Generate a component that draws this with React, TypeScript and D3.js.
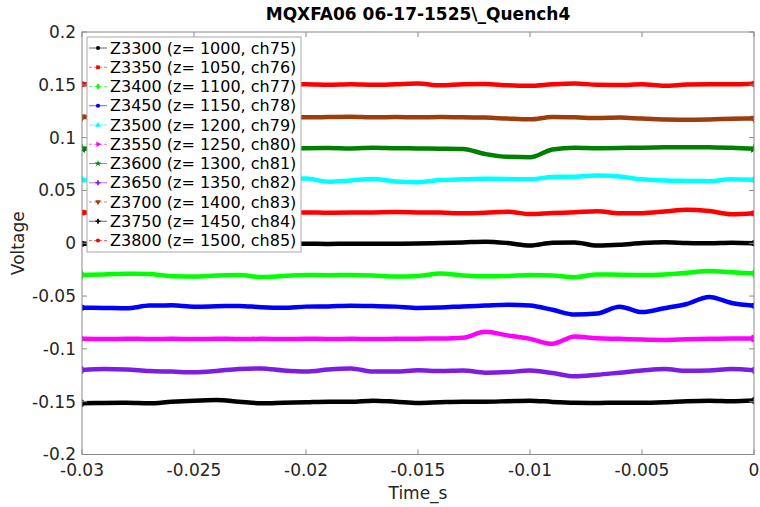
import { useEffect } from "react";
import * as d3 from "d3";

// time samples (s)
const TIME = [
  -0.03, -0.029, -0.028, -0.027, -0.026, -0.025, -0.024, -0.023, -0.022, -0.021,
  -0.02, -0.019, -0.018, -0.017, -0.016, -0.015, -0.014, -0.013, -0.012, -0.011,
  -0.01, -0.009, -0.008, -0.007, -0.006, -0.005, -0.004, -0.003, -0.002, -0.001, 0,
];

// voltages (offset traces)
const Z3300 = [
  -0.0005, -0.0004, -0.0006, -0.0005, -0.0004, -0.0006, -0.0005, -0.0004, -0.0006, -0.0005,
  -0.0004, -0.0006, -0.0005, -0.0004, -0.0005, -0.0003, 0.0003, 0.0008, 0.0015, 0.0002,
  -0.0022, 0.0005, 0.0008, -0.0022, -0.0015, 0.0002, 0.0009, 0.0003, 0.0, 0.0005, 0.0,
];
const Z3350 = [
  0.029, 0.0292, 0.0288, 0.029, 0.0292, 0.0288, 0.029, 0.0292, 0.0288, 0.029,
  0.0292, 0.0288, 0.029, 0.0292, 0.0295, 0.0292, 0.029, 0.0283, 0.0288, 0.0299,
  0.0276, 0.0286, 0.0293, 0.0303, 0.0283, 0.0285, 0.03, 0.0318, 0.0305, 0.0274, 0.0283,
];
const Z3400 = [
  -0.03, -0.0295, -0.0288, -0.029, -0.0312, -0.0314, -0.0305, -0.03, -0.032, -0.031,
  -0.03, -0.0302, -0.03, -0.0305, -0.0315, -0.031, -0.0287, -0.0305, -0.0313, -0.031,
  -0.03, -0.0305, -0.0322, -0.0295, -0.0298, -0.03, -0.0295, -0.028, -0.0263, -0.0275, -0.0285,
];
const Z3450 = [
  -0.061, -0.0612, -0.0616, -0.059, -0.0588, -0.06, -0.0597, -0.0593, -0.0605, -0.061,
  -0.06, -0.0598, -0.0592, -0.0595, -0.06, -0.0612, -0.0608, -0.0598, -0.059, -0.0582,
  -0.059, -0.063, -0.0675, -0.0665, -0.06, -0.0652, -0.0615, -0.0575, -0.0508, -0.0565, -0.0591,
];
const Z3500 = [
  0.06, 0.0598, 0.0602, 0.06, 0.0598, 0.06, 0.0602, 0.06, 0.0598, 0.0605,
  0.0612, 0.0583, 0.0595, 0.0608, 0.0585, 0.0578, 0.0598, 0.0605, 0.061, 0.0608,
  0.0605, 0.0628, 0.063, 0.0642, 0.0632, 0.0605, 0.0593, 0.059, 0.0588, 0.0605, 0.06,
];
const Z3550 = [
  -0.0905, -0.0907, -0.0904, -0.0906, -0.0905, -0.0907, -0.0904, -0.0906, -0.0905, -0.0907,
  -0.0904, -0.0906, -0.0905, -0.0907, -0.0904, -0.0903, -0.0902, -0.0895, -0.0838, -0.0872,
  -0.0905, -0.0952, -0.0882, -0.09, -0.0905, -0.0912, -0.0915, -0.091, -0.0905, -0.0902, -0.0902,
];
const Z3600 = [
  0.0895, 0.09, 0.0898, 0.0902, 0.0898, 0.09, 0.0895, 0.09, 0.0902, 0.0898,
  0.09, 0.0902, 0.0898, 0.0905, 0.09, 0.0898, 0.0895, 0.0892, 0.0845, 0.0818,
  0.0815, 0.0888, 0.0905, 0.09, 0.0902, 0.0905, 0.0908, 0.091, 0.0908, 0.0905, 0.0895,
];
const Z3650 = [
  -0.12, -0.119, -0.1195, -0.121, -0.1215, -0.1222, -0.121, -0.119, -0.1185, -0.1205,
  -0.1215, -0.1195, -0.1185, -0.1215, -0.1215, -0.1202, -0.121, -0.1205, -0.1225, -0.122,
  -0.1205, -0.1228, -0.126, -0.1245, -0.1225, -0.1205, -0.119, -0.1208, -0.1205, -0.119, -0.1203,
];
const Z3700 = [
  0.1195, 0.1192, 0.119, 0.1195, 0.1192, 0.119, 0.1195, 0.1192, 0.119, 0.1195,
  0.1192, 0.1195, 0.1198, 0.1192, 0.1195, 0.1192, 0.1195, 0.1192, 0.119, 0.118,
  0.1173, 0.1195, 0.1192, 0.1185, 0.119, 0.118, 0.1172, 0.117, 0.1172, 0.1178, 0.1182,
];
const Z3750 = [
  -0.1515, -0.1512, -0.151, -0.1515, -0.15, -0.149, -0.1485, -0.15, -0.1515, -0.151,
  -0.1505, -0.15, -0.15, -0.149, -0.15, -0.1512, -0.1505, -0.15, -0.15, -0.1495,
  -0.149, -0.1502, -0.151, -0.1512, -0.151, -0.151, -0.1505, -0.1495, -0.149, -0.1495, -0.1488,
];
const Z3800 = [
  0.1505, 0.1505, 0.15, 0.1505, 0.15, 0.1505, 0.15, 0.1505, 0.15, 0.1505,
  0.1505, 0.15, 0.1505, 0.15, 0.1505, 0.1512, 0.1495, 0.1505, 0.1508, 0.1495,
  0.149, 0.1505, 0.1513, 0.15, 0.1498, 0.1505, 0.149, 0.1502, 0.1505, 0.1505, 0.151,
];

const LABELS = [
  "Z3300 (z= 1000, ch75)", "Z3350 (z= 1050, ch76)", "Z3400 (z= 1100, ch77)",
  "Z3450 (z= 1150, ch78)", "Z3500 (z= 1200, ch79)", "Z3550 (z= 1250, ch80)",
  "Z3600 (z= 1300, ch81)", "Z3650 (z= 1350, ch82)", "Z3700 (z= 1400, ch83)",
  "Z3750 (z= 1450, ch84)", "Z3800 (z= 1500, ch85)",
];
const COLORS = [
  "#000000", "#ff0000", "#00ff00", "#0000ff", "#00ffff", "#ff00ff",
  "#008000", "#7d1de3", "#9c3d0c", "#000000", "#ff0000",
];
const VALUES = [Z3300, Z3350, Z3400, Z3450, Z3500, Z3550, Z3600, Z3650, Z3700, Z3750, Z3800];
const MARKERS = ["circle", "square", "diamond", "circle", "triUp", "triRight", "star", "cross", "triDown", "cross", "circle"];
const DASHED = [false, true, true, false, false, true, false, false, true, false, true];

const X_TICKS = [-0.03, -0.025, -0.02, -0.015, -0.01, -0.005, 0];
const Y_TICKS = [-0.2, -0.15, -0.1, -0.05, 0, 0.05, 0.1, 0.15, 0.2];

const TITLE = "MQXFA06 06-17-1525\\_Quench4";
const X_LABEL = "Time_s";
const Y_LABEL = "Voltage";

const W = 760;
const H = 507;
const PLOT = { left: 82, right: 754, top: 32, bottom: 454.5 };
const FONT = "DejaVu Sans, sans-serif";
const AXIS_COLOR = "#8a8a8a";
const TEXT_COLOR = "#262626";

function markerPath(kind: string, size: number) {
  switch (kind) {
    case "square": return d3.symbol(d3.symbolSquare, size)()!;
    case "diamond": return d3.symbol(d3.symbolDiamond, size)()!;
    case "triUp":
    case "triRight":
    case "triDown": return d3.symbol(d3.symbolTriangle, size)()!;
    case "star": return d3.symbol(d3.symbolStar, size)()!;
    case "cross": return d3.symbol(d3.symbolCross, size)()!;
    default: return d3.symbol(d3.symbolCircle, size)()!;
  }
}

function markerRotate(kind: string) {
  if (kind === "triRight") return 90;
  if (kind === "triDown") return 180;
  return 0;
}

const fmt = (v: number) => `${+v.toFixed(4)}`;

export default function App() {
  useEffect(() => {
    document.body.style.margin = "0";
  }, []);

  const x = d3.scaleLinear().domain([-0.03, 0]).range([PLOT.left, PLOT.right]);
  const y = d3.scaleLinear().domain([-0.2, 0.2]).range([PLOT.bottom, PLOT.top]);

  const line = d3
    .line<number>()
    .x((_, i) => x(TIME[i]))
    .y((d) => y(d))
    .curve(d3.curveMonotoneX);

  const legX = 87;
  const legY = 37;
  const legW = 214;
  const rowH = 19.25;
  const legH = 215;

  return (
    <svg width={W} height={H} style={{ display: "block", background: "#fff" }} fontFamily={FONT}>
      <defs>
        <clipPath id="plot-clip">
          <rect x={PLOT.left} y={PLOT.top} width={PLOT.right - PLOT.left} height={PLOT.bottom - PLOT.top} />
        </clipPath>
      </defs>

      {/* traces */}
      <g clipPath="url(#plot-clip)">
        {VALUES.map((vals, k) => (
          <g key={k}>
            <path d={line(vals) ?? ""} fill="none" stroke={COLORS[k]} strokeWidth={4.5} strokeLinejoin="round" />
            {[0, vals.length - 1].map((i) => (
              <path
                key={i}
                d={markerPath(MARKERS[k], 22)}
                transform={`translate(${x(TIME[i])},${y(vals[i])}) rotate(${markerRotate(MARKERS[k])})`}
                fill={COLORS[k]}
                stroke={COLORS[k]}
              />
            ))}
          </g>
        ))}
      </g>

      {/* box */}
      <rect
        x={PLOT.left}
        y={PLOT.top}
        width={PLOT.right - PLOT.left}
        height={PLOT.bottom - PLOT.top}
        fill="none"
        stroke={AXIS_COLOR}
        strokeWidth={1}
      />

      {/* x ticks */}
      {X_TICKS.map((t) => (
        <g key={`x${t}`}>
          <line x1={x(t)} x2={x(t)} y1={PLOT.bottom} y2={PLOT.bottom - 5} stroke={AXIS_COLOR} />
          <line x1={x(t)} x2={x(t)} y1={PLOT.top} y2={PLOT.top + 5} stroke={AXIS_COLOR} />
          <text x={x(t)} y={476} textAnchor="middle" fontSize={17} fill={TEXT_COLOR}>
            {fmt(t)}
          </text>
        </g>
      ))}

      {/* y ticks */}
      {Y_TICKS.map((t) => (
        <g key={`y${t}`}>
          <line x1={PLOT.left} x2={PLOT.left + 5} y1={y(t)} y2={y(t)} stroke={AXIS_COLOR} />
          <line x1={PLOT.right} x2={PLOT.right - 5} y1={y(t)} y2={y(t)} stroke={AXIS_COLOR} />
          <text x={76} y={y(t)} dy="0.35em" textAnchor="end" fontSize={17} fill={TEXT_COLOR}>
            {fmt(t)}
          </text>
        </g>
      ))}

      {/* labels */}
      <text x={(PLOT.left + PLOT.right) / 2} y={20} textAnchor="middle" fontSize={17} fontWeight="bold" fill="#000">
        {TITLE}
      </text>
      <text x={(PLOT.left + PLOT.right) / 2} y={499} textAnchor="middle" fontSize={17} fill={TEXT_COLOR}>
        {X_LABEL}
      </text>
      <text
        transform={`translate(24,${(PLOT.top + PLOT.bottom) / 2}) rotate(-90)`}
        textAnchor="middle"
        fontSize={17}
        fill={TEXT_COLOR}
      >
        {Y_LABEL}
      </text>

      {/* legend */}
      <g>
        <rect x={legX} y={legY} width={legW} height={legH} fill="#fff" stroke="#a8a8a8" strokeWidth={1} />
        {LABELS.map((lab, k) => {
          const cy = legY + 11 + k * rowH;
          return (
            <g key={lab}>
              <line
                x1={89}
                x2={107}
                y1={cy}
                y2={cy}
                stroke={COLORS[k]}
                strokeWidth={1}
                strokeOpacity={0.6}
                strokeDasharray={DASHED[k] ? "3,2" : undefined}
              />
              <path
                d={markerPath(MARKERS[k], 14)}
                transform={`translate(98,${cy}) rotate(${markerRotate(MARKERS[k])})`}
                fill={COLORS[k]}
              />
              <text x={110} y={cy} dy="0.35em" fontSize={16} fill="#000">
                {lab}
              </text>
            </g>
          );
        })}
      </g>
    </svg>
  );
}
